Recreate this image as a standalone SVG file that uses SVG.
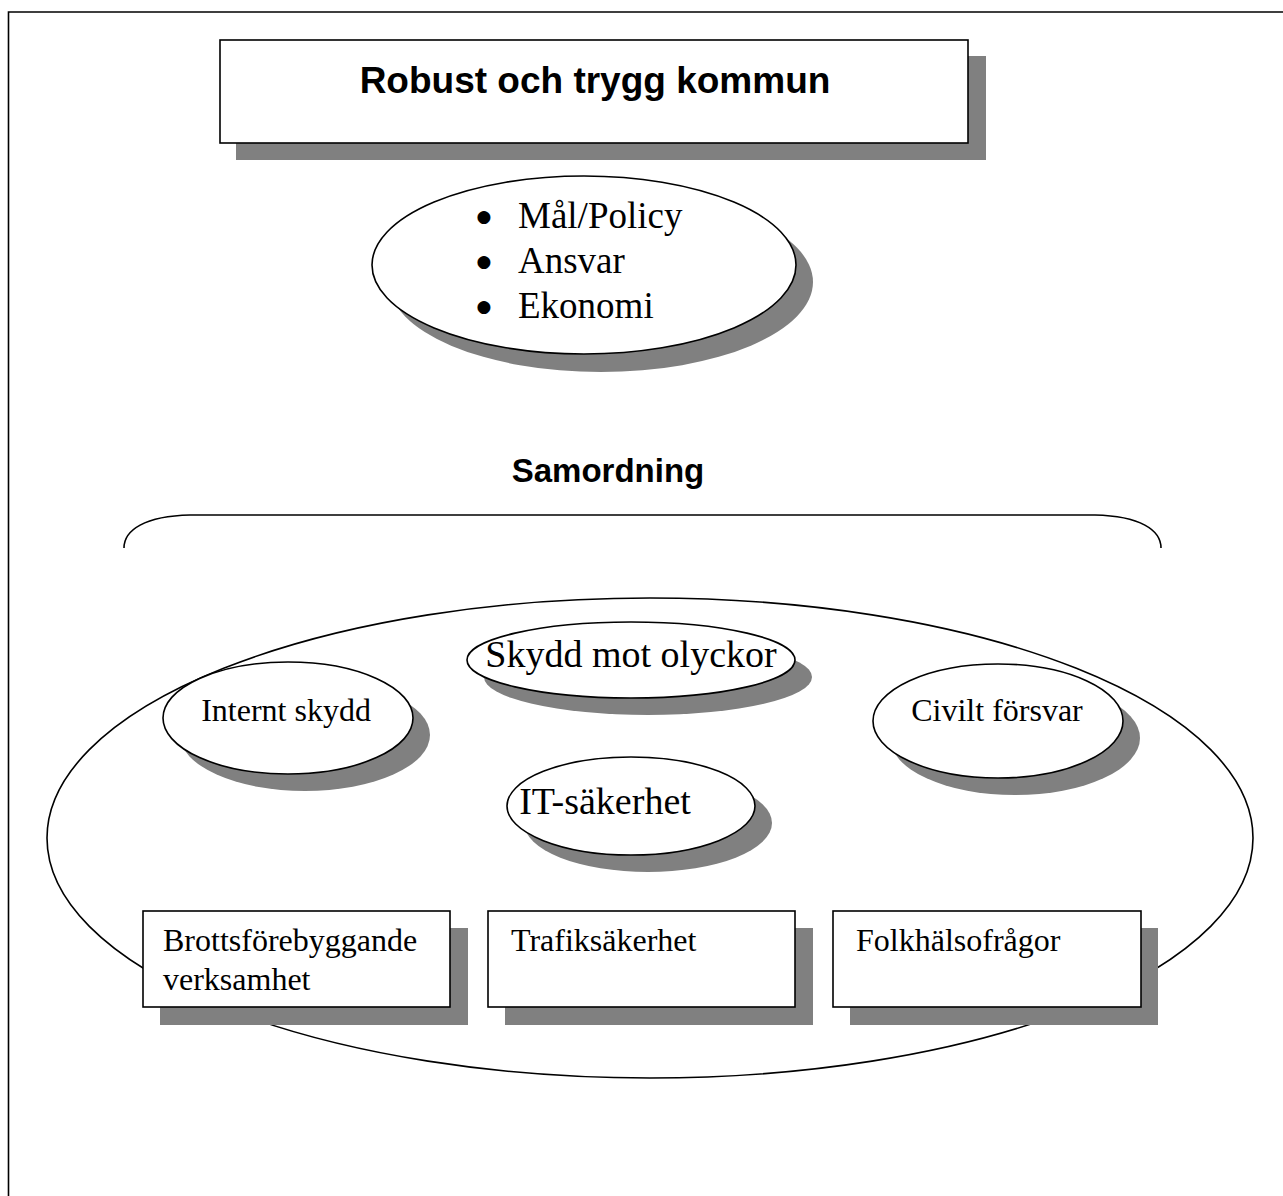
<svg xmlns="http://www.w3.org/2000/svg" width="1283" height="1196" viewBox="0 0 1283 1196">
  <style>
    .shape { fill: #ffffff; stroke: #000000; stroke-width: 1.6; }
    .shadow { fill: #808080; stroke: none; }
    .line { fill: none; stroke: #000000; stroke-width: 1.6; }
    .head { font-family: "Liberation Sans", Arial, sans-serif; font-weight: bold; fill: #000; }
    .body { font-family: "Liberation Serif", "Times New Roman", serif; fill: #000; }
    .bullet { font-family: "DejaVu Sans", sans-serif; font-size: 17px; fill: #000; }
  </style>

  <rect x="0" y="0" width="1283" height="1196" fill="#ffffff"/>

  <!-- page frame -->
  <path class="line" d="M8.5,1196 V12 H1283" stroke-width="2.2"/>

  <!-- title box -->
  <g id="title">
    <rect class="shadow" x="236" y="56" width="750" height="104"/>
    <rect class="shape" x="220" y="40" width="748" height="103"/>
    <text class="head" x="595" y="93" font-size="37" text-anchor="middle">Robust och trygg kommun</text>
  </g>

  <!-- goals ellipse -->
  <g id="goals">
    <ellipse class="shadow" cx="601" cy="282" rx="212" ry="90"/>
    <ellipse class="shape" cx="584" cy="265" rx="212" ry="89"/>
    <text class="bullet" x="484" y="222" text-anchor="middle">●</text>
    <text class="bullet" x="484" y="267" text-anchor="middle">●</text>
    <text class="bullet" x="484" y="312" text-anchor="middle">●</text>
    <g class="body" font-size="37">
      <text x="518" y="228">Mål/Policy</text>
      <text x="518" y="273">Ansvar</text>
      <text x="518" y="318">Ekonomi</text>
    </g>
  </g>

  <!-- coordination heading -->
  <g id="samordning">
    <text class="head" x="608" y="482" font-size="33" text-anchor="middle">Samordning</text>
  </g>

  <g id="connectors">
    <!-- brace over the coordination area -->
    <path class="line" d="M124,548 C124,530 145,516 190,515 L1095,515 C1140,516 1161,530 1161,548"/>
  </g>

  <!-- coordination area -->
  <g id="area">
    <ellipse class="shape" cx="650" cy="838" rx="603" ry="240" fill="none"/>
  </g>

  <g id="skydd-mot-olyckor">
    <ellipse class="shadow" cx="648" cy="677" rx="164" ry="38"/>
    <ellipse class="shape" cx="631" cy="660" rx="164" ry="38"/>
    <text class="body" x="631" y="667" font-size="38" text-anchor="middle">Skydd mot olyckor</text>
  </g>

  <g id="internt-skydd">
    <ellipse class="shadow" cx="305" cy="735" rx="125" ry="56"/>
    <ellipse class="shape" cx="288" cy="718" rx="125" ry="56"/>
    <text class="body" x="286" y="721" font-size="32" text-anchor="middle">Internt skydd</text>
  </g>

  <g id="civilt-forsvar">
    <ellipse class="shadow" cx="1015" cy="738" rx="125" ry="57"/>
    <ellipse class="shape" cx="998" cy="721" rx="125" ry="57"/>
    <text class="body" x="997" y="721" font-size="32" text-anchor="middle">Civilt försvar</text>
  </g>

  <g id="it-sakerhet">
    <ellipse class="shadow" cx="648" cy="823" rx="124" ry="49"/>
    <ellipse class="shape" cx="631" cy="806" rx="124" ry="49"/>
    <text class="body" x="605" y="814" font-size="38" text-anchor="middle">IT-säkerhet</text>
  </g>

  <g id="brottsforebyggande">
    <rect class="shadow" x="160" y="928" width="308" height="97"/>
    <rect class="shape" x="143" y="911" width="307" height="96"/>
    <text class="body" x="163" y="951" font-size="32">Brottsförebyggande</text>
    <text class="body" x="163" y="990" font-size="32">verksamhet</text>
  </g>

  <g id="trafiksakerhet">
    <rect class="shadow" x="505" y="928" width="308" height="97"/>
    <rect class="shape" x="488" y="911" width="307" height="96"/>
    <text class="body" x="511" y="951" font-size="32">Trafiksäkerhet</text>
  </g>

  <g id="folkhalsofragor">
    <rect class="shadow" x="850" y="928" width="308" height="97"/>
    <rect class="shape" x="833" y="911" width="308" height="96"/>
    <text class="body" x="856" y="951" font-size="32">Folkhälsofrågor</text>
  </g>
</svg>
